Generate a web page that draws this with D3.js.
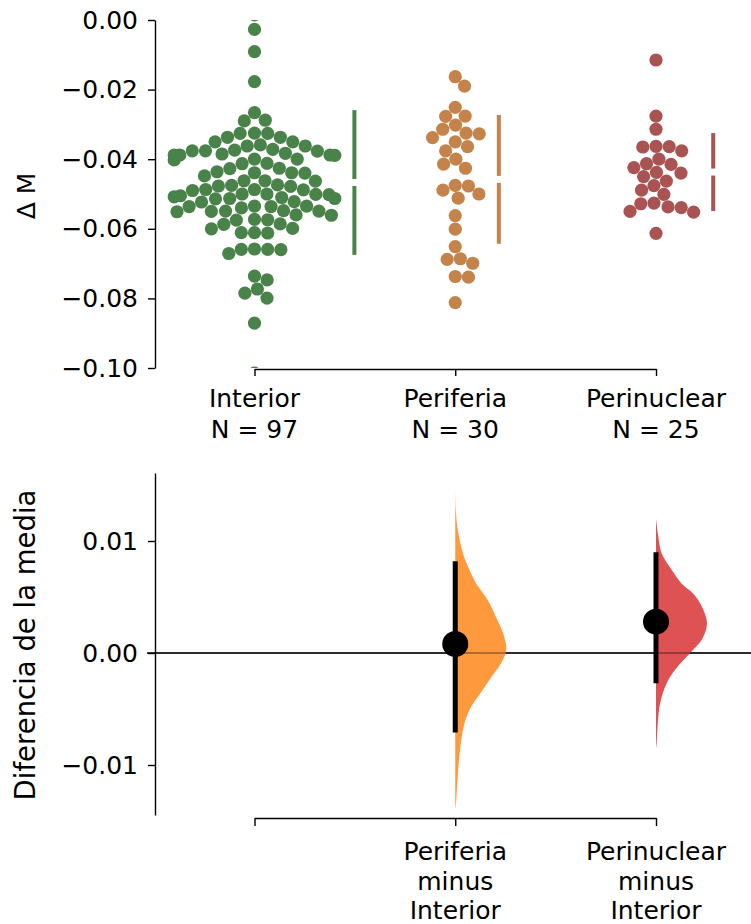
<!DOCTYPE html>
<html>
<head>
<meta charset="utf-8">
<script src="https://cdn.jsdelivr.net/npm/d3@7"></script>
<style>
  html, body { margin: 0; padding: 0; background: #fff; }
  svg { display: block; font-family: "DejaVu Sans", sans-serif; }
</style>
</head>
<body>
<svg id="chart" width="751" height="924"></svg>
<script>
// ---- data ----
const categories = ["Interior", "Periferia", "Perinuclear"];
const groupN = [97, 30, 25];

const interiorValues = [
  0.0015, -0.0027, -0.0091, -0.0177,
  -0.0266, -0.0288, -0.0290,
  -0.0326, -0.0337, -0.0350, -0.0337, -0.0326, -0.0325,
  -0.0359, -0.0350, -0.0362, -0.0362, -0.0372,
  -0.0383, -0.0388, -0.0385, -0.0376, -0.0377, -0.0388, -0.0400, -0.0389, -0.0376, -0.0388, -0.0374,
  -0.0412, -0.0413, -0.0402, -0.0400,
  -0.0436, -0.0448, -0.0426, -0.0439, -0.0440, -0.0427, -0.0439,
  -0.0474, -0.0462, -0.0477, -0.0487, -0.0478, -0.0475, -0.0463, -0.0462,
  -0.0487, -0.0500, -0.0501, -0.0508, -0.0510, -0.0513, -0.0522, -0.0535,
  -0.0523, -0.0514, -0.0513, -0.0500, -0.0502, -0.0488, -0.0490, -0.0505,
  -0.0535, -0.0549, -0.0536, -0.0550, -0.0560, -0.0573, -0.0574, -0.0561,
  -0.0549, -0.0548, -0.0551, -0.0536, -0.0540,
  -0.0575, -0.0586, -0.0599, -0.0611, -0.0612, -0.0611, -0.0600, -0.0587,
  -0.0659, -0.0660, -0.0671, -0.0659, -0.0658,
  -0.0736, -0.0747, -0.0773, -0.0785, -0.0799, -0.0871, -0.1015
];
const periferiaValues = [
  -0.0163, -0.0190, -0.0251, -0.0276, -0.0277, -0.0302, -0.0314, -0.0325,
  -0.0327, -0.0338, -0.0350, -0.0364, -0.0376, -0.0400, -0.0414, -0.0426,
  -0.0475, -0.0477, -0.0489, -0.0500, -0.0512, -0.0562, -0.0601, -0.0651,
  -0.0686, -0.0688, -0.0699, -0.0737, -0.0739, -0.0812
];
const perinuclearValues = [
  -0.0115, -0.0276, -0.0314, -0.0363, -0.0364, -0.0365, -0.0376, -0.0400,
  -0.0413, -0.0415, -0.0424, -0.0438, -0.0440, -0.0450, -0.0463, -0.0476,
  -0.0489, -0.0501, -0.0526, -0.0528, -0.0537, -0.0539, -0.0550, -0.0552,
  -0.0613
];

// group summaries shown as gapped mean ± SD lines
const groupMean = [-0.0467, -0.0458, -0.0437];
const groupSd = [0.0208, 0.0185, 0.0112];

const swarmTicks = [0.00, -0.02, -0.04, -0.06, -0.08, -0.10];

// mean differences against Interior, with 95% CI
const contrastLabels = [[], ["Periferia", "minus", "Interior"], ["Perinuclear", "minus", "Interior"]];
const meanDiff = [null, 0.0008, 0.0028];
const ciLow = [null, -0.0071, -0.0027];
const ciHigh = [null, 0.0082, 0.0090];
const contrastTicks = [0.01, 0.00, -0.01];

// bootstrap distributions (value, relative density)
const bootPeriferiaValue = [0.0149, 0.0125, 0.0110, 0.0089, 0.0074, 0.0062, 0.0047, 0.0032, 0.0018, 0.0003,
  -0.0009, -0.0024, -0.0039, -0.0048, -0.0063, -0.0090, -0.0120, -0.0134, -0.0140];
const bootPeriferiaDensity = [0, 0.015, 0.05, 0.15, 0.28, 0.41, 0.64, 0.80, 0.935, 1.0,
  0.90, 0.67, 0.445, 0.31, 0.18, 0.085, 0.035, 0.015, 0];
const bootPerinuclearValue = [0.0120, 0.0104, 0.0089, 0.0074, 0.0062, 0.0053, 0.0044, 0.0027, 0.0012, 0.0000,
  -0.0015, -0.0027, -0.0045, -0.0070, -0.0081, -0.0085];
const bootPerinuclearDensity = [0, 0.045, 0.11, 0.31, 0.50, 0.73, 0.87, 1.0, 0.90, 0.67,
  0.375, 0.21, 0.08, 0.025, 0.012, 0];

// ---- styling ----
const swarmColors = ["#498349", "#c3834a", "#aa5353"];
const violinColors = [null, "#ff993e", "#de5253"];
const FONT = 25;

const svg = d3.select("#chart");

// ---- scales ----
const x = d3.scalePoint().domain(categories).range([254.5, 656]);
const yTop = d3.scaleLinear().domain([-0.10, 0.00]).range([368, 20]);
const yBot = d3.scaleLinear().domain([-0.01, 0.01]).range([765, 541]);
const botExtent = [yBot.invert(815), yBot.invert(473)];
const yBotAxis = d3.scaleLinear().domain(botExtent).range([815, 473]);
const axisX = 155;
const gutter = 0.4 * x.step(); // half-width available to each swarm

function styleAxis(g) {
  g.selectAll("path.domain").attr("stroke", "#000").attr("stroke-width", 1.4);
  g.selectAll(".tick line").attr("stroke", "#000").attr("stroke-width", 1.4);
  g.selectAll(".tick text").attr("fill", "#000").style("font-size", FONT + "px")
    .style("font-family", "DejaVu Sans");
}

// ---- top panel: swarms ----
svg.append("defs").append("clipPath").attr("id", "topClip")
  .append("rect").attr("x", axisX).attr("y", 20).attr("width", 751 - axisX).attr("height", 348);

const R = 6.6;
function beeswarm(values, yScale) {
  const pts = values.map(v => ({ v, y: yScale(v), x: 0 }))
    .sort((a, b) => a.y - b.y);
  const d = 2 * R;
  const placed = [];
  for (const p of pts) {
    const near = placed.filter(q => Math.abs(q.y - p.y) < d);
    const cands = [0];
    for (const q of near) {
      const dx = Math.sqrt(d * d - (q.y - p.y) ** 2);
      cands.push(q.x + dx, q.x - dx);
    }
    cands.sort((a, b) => Math.abs(a) - Math.abs(b));
    for (const c of cands) {
      if (near.every(q => (q.x - c) ** 2 + (q.y - p.y) ** 2 >= d * d - 1e-6)) { p.x = c; break; }
    }
    placed.push(p);
  }
  // points that do not fit are pushed back to the gutter edge
  placed.forEach(p => { p.x = Math.max(-gutter, Math.min(gutter, p.x)); });
  return placed;
}

const groups = [interiorValues, periferiaValues, perinuclearValues];
const swarmG = svg.append("g").attr("clip-path", "url(#topClip)");
groups.forEach((vals, i) => {
  const cx = x(categories[i]);
  const pts = beeswarm(vals, yTop);
  swarmG.append("g").selectAll("circle").data(pts).join("circle")
    .attr("cx", p => cx + p.x)
    .attr("cy", p => p.y)
    .attr("r", R)
    .attr("fill", swarmColors[i]);

  // gapped mean ± SD line to the right of the swarm
  const ext = d3.max(pts.filter(p => p.y > 20 && p.y < 368), p => p.x) + R;
  const lx = cx + ext + 13;
  const m = groupMean[i], s = groupSd[i];
  const gap = 3.5;
  svg.append("line").attr("x1", lx).attr("x2", lx)
    .attr("y1", yTop(m + s)).attr("y2", yTop(m) - gap)
    .attr("stroke", swarmColors[i]).attr("stroke-width", 4);
  svg.append("line").attr("x1", lx).attr("x2", lx)
    .attr("y1", yTop(m) + gap).attr("y2", yTop(m - s))
    .attr("stroke", swarmColors[i]).attr("stroke-width", 4);
});

// top axes
const topY = svg.append("g").attr("transform", `translate(${axisX},0)`)
  .call(d3.axisLeft(yTop).tickValues(swarmTicks).tickFormat(d3.format(".2f"))
    .tickSize(7).tickPadding(10).tickSizeOuter(0));
styleAxis(topY);

const topX = svg.append("g").attr("transform", `translate(0,369)`)
  .call(d3.axisBottom(x).tickSize(7).tickSizeOuter(0).tickFormat(""));
styleAxis(topX);

const topLabels = svg.append("g").style("font-size", FONT + "px").attr("text-anchor", "middle");
categories.forEach((c, i) => {
  const t = topLabels.append("text").attr("x", x(c)).attr("y", 407);
  t.append("tspan").attr("x", x(c)).attr("dy", 0).text(c);
  t.append("tspan").attr("x", x(c)).attr("dy", 30.5).text(`N = ${groupN[i]}`);
});

svg.append("text")
  .attr("transform", `translate(35,196) rotate(-90)`)
  .attr("text-anchor", "middle")
  .style("font-size", FONT + "px")
  .text("\u0394 M");

// ---- bottom panel: mean differences ----
const maxHalfWidth = 51;
const boots = [null,
  bootPeriferiaValue.map((v, k) => ({ v, d: bootPeriferiaDensity[k] })),
  bootPerinuclearValue.map((v, k) => ({ v, d: bootPerinuclearDensity[k] }))];
const wScale = d3.scaleLinear().domain([0, 1]).range([0, maxHalfWidth]);

// zero reference line
svg.append("line")
  .attr("x1", axisX - 8).attr("x2", 751)
  .attr("y1", yBot(0)).attr("y2", yBot(0))
  .attr("stroke", "#000").attr("stroke-width", 1.4);

for (let i = 1; i < categories.length; i++) {
  const cx = x(categories[i]);
  const area = d3.area()
    .y(p => yBot(p.v))
    .x0(cx)
    .x1(p => cx + wScale(p.d))
    .curve(d3.curveCatmullRom);
  svg.append("path").datum(boots[i]).attr("d", area)
    .attr("fill", violinColors[i]);

  svg.append("line").attr("x1", cx).attr("x2", cx)
    .attr("y1", yBot(ciHigh[i])).attr("y2", yBot(ciLow[i]))
    .attr("stroke", "#000").attr("stroke-width", 5);
  svg.append("circle").attr("cx", cx).attr("cy", yBot(meanDiff[i]))
    .attr("r", 13).attr("fill", "#000");
}

// zero line again over the violins, semi-transparent
svg.append("line")
  .attr("x1", axisX).attr("x2", 751)
  .attr("y1", yBot(0)).attr("y2", yBot(0))
  .attr("stroke", "#000").attr("stroke-opacity", 0.6).attr("stroke-width", 1.2);

const botY = svg.append("g").attr("transform", `translate(${axisX},0)`)
  .call(d3.axisLeft(yBotAxis).tickValues(contrastTicks).tickFormat(d3.format(".2f"))
    .tickSize(7).tickPadding(10).tickSizeOuter(0));
styleAxis(botY);

const botX = svg.append("g").attr("transform", `translate(0,818)`)
  .call(d3.axisBottom(x).tickSize(8).tickSizeOuter(0).tickFormat(""));
styleAxis(botX);

const botLabels = svg.append("g").style("font-size", FONT + "px").attr("text-anchor", "middle");
categories.forEach((c, i) => {
  const lines = contrastLabels[i];
  if (!lines.length) return;
  const t = botLabels.append("text").attr("x", x(c)).attr("y", 860);
  lines.forEach((ln, k) => {
    t.append("tspan").attr("x", x(c)).attr("dy", k === 0 ? 0 : 29.5).text(ln);
  });
});

svg.append("text")
  .attr("transform", `translate(35,645) rotate(-90)`)
  .attr("text-anchor", "middle")
  .style("font-size", "27.5px")
  .text("Diferencia de la media");
</script>
</body>
</html>
